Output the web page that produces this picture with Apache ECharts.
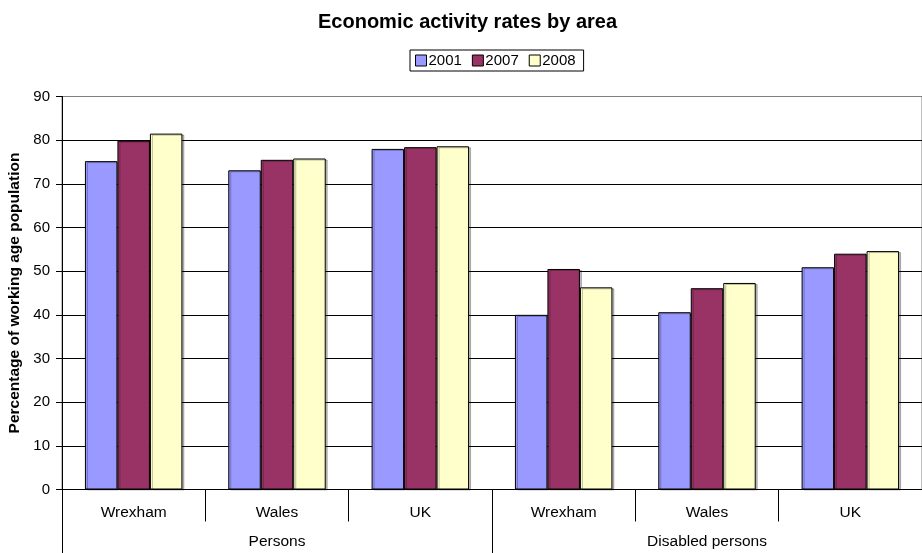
<!DOCTYPE html>
<html>
<head>
<meta charset="utf-8">
<script src="https://cdn.jsdelivr.net/npm/echarts@6/dist/echarts.min.js"></script>
<style>html,body{margin:0;padding:0;background:#fff;}#c{width:922px;height:553px;}</style>
</head>
<body>
<div id="c"></div>
<script>
const areas = ['Wrexham', 'Wales', 'UK', 'Wrexham', 'Wales', 'UK'];
const groups = ['Persons', 'Disabled persons'];
const seriesNames = ['2001', '2007', '2008'];
const v2001 = [75.2, 73.1, 78.0, 40.0, 40.6, 50.9];
const v2007 = [79.9, 75.5, 78.4, 50.5, 46.1, 54.0];
const v2008 = [81.5, 75.8, 78.6, 46.3, 47.3, 54.6];
const colors = ['#9999FF', '#993366', '#FFFFCC'];

const font = 'Liberation Sans, Arial, sans-serif';
const chart = echarts.init(document.getElementById('c'), null, {renderer: 'canvas'});
const values = [v2001, v2007, v2008];
chart.setOption({
  animation: false,
  title: {
    text: 'Economic activity rates by area',
    left: 313, top: 7,
    textStyle: {fontFamily: font, fontSize: 20, fontWeight: 'bold', color: '#000'}
  },
  legend: {
    data: seriesNames,
    left: 410, top: 50,
    icon: 'rect', itemWidth: 11, itemHeight: 11, itemGap: 10,
    borderColor: '#000', borderWidth: 1, padding: [3, 8, 3, 5],
    textStyle: {fontFamily: font, fontSize: 15, color: '#000', padding: [0, 0, 0, -3]},
    itemStyle: {borderColor: '#000', borderWidth: 1}
  },
  grid: {left: 62, right: 0, top: 96.5, bottom: 63.5, outerBoundsMode: 'none', containLabel: false,
    show: true, borderColor: '#808080', borderWidth: 1},
  xAxis: [
    {
      type: 'category', data: areas, position: 'bottom',
      axisLine: {lineStyle: {color: '#000', width: 1}},
      axisTick: {show: true, length: 32, lineStyle: {color: '#000'}},
      axisLabel: {margin: 15, fontFamily: font, fontSize: 15.5, color: '#000'}
    },
    {
      type: 'category', data: groups, position: 'bottom',
      axisLine: {show: false},
      axisTick: {show: true, length: 64, lineStyle: {color: '#000'}},
      axisLabel: {margin: 44, fontFamily: font, fontSize: 15.5, color: '#000'}
    }
  ],
  yAxis: {
    type: 'value', min: 0, max: 90, interval: 10,
    name: 'Percentage of working age population',
    nameLocation: 'middle', nameGap: 38, nameRotate: 90,
    nameTextStyle: {fontFamily: font, fontSize: 15.5, fontWeight: 'bold', color: '#000'},
    axisLine: {show: true, lineStyle: {color: '#000'}},
    axisTick: {show: true, length: 6, lineStyle: {color: '#000'}},
    axisLabel: {margin: 12, fontFamily: font, fontSize: 15, color: '#000'},
    splitLine: {show: true, lineStyle: {color: ['#000','#000','#000','#000','#000','#000','#000','#000','#000','#808080'], width: 1}}
  },
  series: seriesNames.map((n, i) => ({
    name: n, type: 'bar', xAxisIndex: 0, data: values[i],
    barGap: '0%', barCategoryGap: '32%',
    itemStyle: {color: colors[i], borderColor: '#000', borderWidth: 1,
      shadowColor: 'rgba(0,0,0,0.25)', shadowOffsetX: 2, shadowOffsetY: 1, shadowBlur: 0}
  }))
});
</script>
</body>
</html>
